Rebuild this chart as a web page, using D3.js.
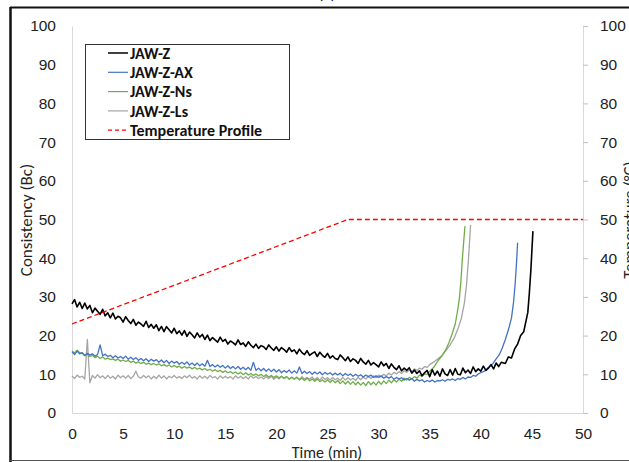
<!DOCTYPE html>
<html>
<head>
<meta charset="utf-8">
<script src="https://cdn.jsdelivr.net/npm/d3@7"></script>
<style>
  body { margin: 0; background: #fff; }
  svg { font-family: Carlito, Calibri, Lato, sans-serif; }
  .axis text { font-size: 15.5px; fill: #222; }
  .axis .domain { stroke: #d9d9d9; }
  .axis line { stroke: #bfbfbf; }
</style>
</head>
<body>
<svg width="629" height="462"></svg>
<script>
// sample interval (min) of the regular part of each record
const step = 0.25;

// JAW-Z, t = 0 .. 42 min
const jawZ = [
  28.2, 29.3, 27.4, 28.6, 27.0, 28.4, 26.9, 27.8, 25.9, 27.1, 26.3, 25.5,
  26.8, 25.1, 25.9, 24.6, 25.8, 24.3, 25.0, 24.6, 23.5, 24.9, 23.9, 23.1,
  24.2, 22.7, 23.5, 23.0, 22.4, 23.7, 22.1, 22.9, 21.9, 22.8, 21.3, 22.4,
  21.0, 22.3, 21.5, 20.7, 21.9, 20.5, 21.2, 20.1, 21.3, 19.8, 20.9, 20.2,
  19.4, 20.7, 19.6, 20.3, 19.0, 20.1, 18.7, 19.5, 18.9, 18.3, 19.6, 18.5,
  19.0, 17.8, 18.6, 18.2, 17.6, 18.9, 17.7, 18.1, 17.2, 18.4, 17.5, 16.9,
  17.8, 16.7, 17.4, 17.1, 16.4, 17.6, 16.8, 16.2, 17.1, 16.0, 16.9, 16.4,
  15.7, 16.9, 15.9, 16.3, 15.3, 16.5, 15.6, 15.1, 16.1, 14.9, 15.4, 15.8,
  14.6, 15.7, 14.9, 14.4, 15.4, 14.2, 14.8, 14.1, 13.8, 15.0, 14.3, 13.5,
  14.5, 13.3, 14.0, 13.6, 12.8, 14.1, 13.2, 12.6, 13.6, 12.4, 13.0, 12.5,
  11.9, 13.2, 12.2, 12.8, 11.5, 12.7, 11.8, 11.2, 12.2, 10.9, 11.6, 11.0,
  11.7, 10.3, 11.1, 10.2, 10.9, 9.6, 10.4, 11.0, 9.4, 11.2, 9.8, 10.8,
  9.5, 11.4, 10.1, 9.7, 11.2, 9.8, 11.5, 10.0, 9.9, 11.6, 10.4, 11.1,
  10.2, 11.9, 10.7, 11.4, 10.8, 12.1, 11.0, 11.6, 12.5, 11.4, 12.9, 12.0,
  13.1
];
const jawZRise = [
  [42.4, 12.8], [42.7, 14.5], [43.0, 14.2], [43.3, 16.5], [43.6, 17.8],
  [43.9, 20.0], [44.2, 21.0], [44.4, 23.5], [44.6, 26.0], [44.75, 31.0],
  [44.9, 37.0], [45.0, 42.0], [45.1, 47.0]
];

// JAW-Z-AX, t = 0 .. 40 min
const jawZAX = [
  15.8, 15.1, 16.0, 15.3, 15.6, 14.9, 15.4, 15.0, 15.3, 14.7, 15.1, 17.6,
  14.8, 15.2, 14.6, 14.9, 14.3, 14.8, 14.2, 14.6, 14.1, 14.7, 13.9, 14.4,
  13.8, 14.3, 13.6, 14.1, 13.5, 14.0, 13.3, 13.9, 13.4, 13.8, 13.1, 13.7,
  13.0, 13.6, 12.8, 13.4, 12.9, 13.3, 12.6, 13.1, 12.6, 13.2, 12.4, 12.9,
  12.3, 12.9, 12.2, 12.7, 12.1, 13.6, 12.0, 12.5, 11.9, 12.4, 11.8, 12.3,
  11.6, 12.2, 11.5, 12.0, 11.4, 12.0, 11.3, 11.8, 11.2, 11.8, 11.0, 13.1,
  11.0, 11.6, 10.9, 11.5, 10.8, 11.4, 10.7, 11.3, 10.6, 11.2, 10.4, 11.0,
  10.5, 11.1, 10.3, 10.9, 10.3, 11.9, 10.2, 10.8, 10.2, 10.7, 10.0, 10.6,
  10.1, 10.6, 9.9, 10.5, 10.0, 10.4, 9.8, 10.3, 9.8, 10.3, 9.6, 10.2,
  9.7, 10.1, 9.5, 10.0, 9.5, 9.9, 9.3, 9.8, 9.4, 9.8, 9.2, 9.6,
  9.2, 9.6, 9.0, 9.4, 9.0, 9.4, 8.7, 9.2, 8.8, 9.1, 8.5, 8.9,
  8.5, 8.9, 8.2, 8.7, 8.3, 8.6, 8.0, 8.4, 8.1, 8.5, 8.0, 8.4,
  8.3, 8.6, 8.2, 8.7, 8.5, 8.8, 8.4, 8.9, 8.7, 9.2, 8.8, 9.3,
  9.2, 9.7, 9.5, 10.1, 10.4
];
const jawZAXRise = [
  [40.4, 10.9], [40.8, 11.9], [41.2, 12.8], [41.5, 14.0], [41.8, 15.0],
  [42.1, 16.8], [42.4, 19.0], [42.7, 21.5], [43.0, 24.5], [43.2, 28.5],
  [43.35, 33.0], [43.5, 39.0], [43.6, 44.0]
];

// JAW-Z-Ns, t = 0 .. 35 min
const jawZNs = [
  16.0, 15.5, 16.2, 15.6, 15.4, 14.8, 15.2, 14.6, 14.9, 14.3, 14.7, 14.1,
  14.5, 13.9, 14.2, 13.8, 14.0, 13.6, 13.9, 13.4, 13.7, 13.3, 13.6, 13.1,
  13.4, 12.9, 13.2, 12.8, 13.1, 12.6, 12.9, 12.5, 12.8, 12.4, 12.7, 12.2,
  12.5, 12.1, 12.4, 11.9, 12.3, 11.8, 12.1, 11.6, 12.0, 11.6, 11.9, 11.4,
  11.8, 11.3, 11.6, 11.1, 11.5, 11.0, 11.3, 10.8, 11.2, 10.7, 11.0, 10.5,
  10.9, 10.4, 10.7, 10.2, 10.6, 10.1, 10.5, 9.9, 10.4, 9.8, 10.2, 9.7,
  10.1, 9.6, 10.0, 9.4, 9.9, 9.3, 9.7, 9.2, 9.6, 9.1, 9.5, 8.9,
  9.4, 8.8, 9.2, 8.7, 9.2, 8.6, 9.0, 8.4, 9.0, 8.3, 8.8, 8.2,
  8.8, 8.1, 8.6, 8.0, 8.6, 7.9, 8.5, 7.8, 8.4, 7.6, 8.3, 7.5,
  8.2, 7.4, 8.1, 7.3, 8.0, 7.2, 7.9, 7.1, 8.1, 7.3, 8.0, 7.2,
  8.2, 7.4, 8.3, 7.6, 8.5, 7.8, 8.6, 8.0, 8.8, 8.2, 9.0, 8.5,
  9.2, 8.8, 9.4, 9.0, 9.8, 9.5, 10.1, 10.0, 10.8
];
const jawZNsRise = [
  [35.4, 11.8], [35.8, 13.5], [36.2, 14.8], [36.6, 16.5], [36.9, 18.3],
  [37.2, 20.5], [37.5, 23.0], [37.7, 26.0], [37.9, 29.5], [38.05, 34.0],
  [38.2, 40.0], [38.35, 45.0], [38.45, 48.3]
];

// JAW-Z-Ls, t = 0 .. 35 min
const jawZLs = [
  9.6, 8.9, 9.8, 9.2, 9.5, 8.8, 19.0, 7.8, 9.7, 9.0, 9.9, 9.1,
  9.6, 8.9, 9.7, 9.0, 9.5, 8.8, 9.8, 9.1, 9.6, 9.0, 9.7, 8.9,
  9.5, 10.8, 9.3, 9.0, 9.7, 9.1, 9.6, 8.8, 9.5, 8.9, 9.8, 9.0,
  9.6, 8.8, 9.5, 9.1, 9.7, 9.0, 9.4, 8.9, 9.6, 9.1, 9.8, 9.0,
  9.4, 8.8, 9.6, 9.0, 9.5, 8.9, 9.7, 9.1, 9.4, 8.8, 9.6, 9.0,
  9.5, 9.0, 9.4, 8.8, 9.6, 9.0, 9.5, 8.9, 9.4, 8.8, 9.6, 9.0,
  9.5, 8.9, 9.3, 8.8, 9.4, 8.9, 9.5, 8.7, 9.3, 8.8, 9.5, 8.9,
  9.4, 8.7, 9.3, 8.8, 9.3, 8.6, 9.4, 8.8, 9.2, 8.7, 9.3, 8.6,
  9.2, 8.5, 9.3, 8.7, 9.1, 8.5, 9.2, 8.6, 9.0, 8.4, 9.2, 8.5,
  9.1, 8.5, 9.0, 8.4, 9.2, 8.6, 9.3, 8.8, 9.4, 8.9, 9.6, 9.1,
  9.8, 9.3, 10.0, 9.6, 10.3, 9.8, 10.5, 10.1, 10.7, 10.2, 10.9, 10.5,
  11.1, 10.7, 11.4, 11.0, 11.6, 11.3, 12.0, 11.8, 12.5
];
const jawZLsRise = [
  [35.4, 13.2], [35.8, 14.0], [36.2, 14.8], [36.6, 16.2], [37.0, 17.6],
  [37.4, 19.4], [37.8, 22.0], [38.1, 24.5], [38.4, 28.5], [38.6, 33.0],
  [38.8, 40.0], [39.0, 48.6]
];

// temperature profile (°C, right axis)
const tempTimes = [0, 27, 50];
const tempValues = [23, 50, 50];

const seriesNames = ['JAW-Z', 'JAW-Z-AX', 'JAW-Z-Ns', 'JAW-Z-Ls', 'Temperature Profile'];
const xTicks = [0, 5, 10, 15, 20, 25, 30, 35, 40, 45, 50];
const yTicks = [0, 10, 20, 30, 40, 50, 60, 70, 80, 90, 100];

const svg = d3.select('svg');

const x = d3.scaleLinear().domain([0, 50]).range([72, 583]);
const y = d3.scaleLinear().domain([0, 100]).range([413, 26]);
const yRight = d3.scaleLinear().domain([0, 100]).range([413, 26]);

// outer frame of the figure
svg.append('line').attr('x1', 10).attr('x2', 629).attr('y1', 7.5).attr('y2', 7.5)
  .attr('stroke', '#111').attr('stroke-width', 2);
svg.append('line').attr('x1', 10.5).attr('x2', 10.5).attr('y1', 7).attr('y2', 462)
  .attr('stroke', '#111').attr('stroke-width', 2.5);
svg.append('line').attr('x1', 10).attr('x2', 629).attr('y1', 460.5).attr('y2', 460.5)
  .attr('stroke', '#555').attr('stroke-width', 1);

svg.append('text')
  .attr('x', 327).attr('y', -1)
  .attr('text-anchor', 'middle')
  .attr('font-size', 16)
  .text('(a)');

svg.append('g')
  .attr('class', 'axis')
  .attr('transform', 'translate(72,0)')
  .call(d3.axisLeft(y).tickValues(yTicks).tickSize(0).tickPadding(16));

svg.append('g')
  .attr('class', 'axis')
  .attr('transform', 'translate(583,0)')
  .call(d3.axisRight(yRight).tickValues(yTicks).tickSize(5).tickSizeOuter(0).tickPadding(12));

svg.append('g')
  .attr('class', 'axis')
  .attr('transform', 'translate(0,413)')
  .call(d3.axisBottom(x).tickValues(xTicks).tickSize(0).tickPadding(15));

svg.append('text')
  .attr('transform', 'translate(32,220) rotate(-90)')
  .attr('text-anchor', 'middle')
  .attr('font-size', 17)
  .attr('fill', '#222')
  .text('Consistency (Bc)');

svg.append('text')
  .attr('transform', 'translate(635,220) rotate(-90)')
  .attr('text-anchor', 'middle')
  .attr('font-size', 17)
  .attr('fill', '#222')
  .text('Temperature (°C)');

svg.append('text')
  .attr('x', 327).attr('y', 458)
  .attr('text-anchor', 'middle')
  .attr('font-size', 16)
  .attr('fill', '#222')
  .text('Time (min)');

const toPoints = (vals, rise) => vals.map((v, i) => [i * step, v]).concat(rise);

const line = d3.line().x(d => x(d[0])).y(d => y(d[1]));

const series = [
  { pts: toPoints(jawZLs, jawZLsRise), color: '#a5a5a5', width: 1.3 },
  { pts: toPoints(jawZNs, jawZNsRise), color: '#70ad47', width: 1.3 },
  { pts: toPoints(jawZAX, jawZAXRise), color: '#4472c4', width: 1.3 },
  { pts: toPoints(jawZ, jawZRise), color: '#000000', width: 1.6 }
];

svg.append('g')
  .selectAll('path')
  .data(series)
  .join('path')
  .attr('fill', 'none')
  .attr('stroke', d => d.color)
  .attr('stroke-width', d => d.width)
  .attr('stroke-linejoin', 'round')
  .attr('d', d => line(d.pts));

const tempLine = d3.line().x(d => x(d[0])).y(d => yRight(d[1]));
svg.append('path')
  .datum(tempTimes.map((t, i) => [t, tempValues[i]]))
  .attr('fill', 'none')
  .attr('stroke', '#ff0000')
  .attr('stroke-width', 1.3)
  .attr('stroke-dasharray', '5,3')
  .attr('d', tempLine);

// legend
const legend = svg.append('g').attr('transform', 'translate(85,44)');
legend.append('rect')
  .attr('x', 0.5).attr('y', 0.5)
  .attr('width', 204).attr('height', 95)
  .attr('fill', '#fff')
  .attr('stroke', '#333');

const legendColors = ['#000000', '#4472c4', '#70ad47', '#a5a5a5', '#ff0000'];
const items = legend.selectAll('g.item')
  .data(seriesNames)
  .join('g')
  .attr('class', 'item')
  .attr('transform', (d, i) => `translate(0,${9 + i * 19.3})`);

items.append('line')
  .attr('x1', 23).attr('x2', 43)
  .attr('stroke', (d, i) => legendColors[i])
  .attr('stroke-width', (d, i) => i === 0 ? 1.5 : 1.2)
  .attr('stroke-dasharray', (d, i) => i === 4 ? '4,3' : null);

items.append('text')
  .attr('x', 45).attr('dy', '0.35em')
  .attr('font-size', 16)
  .attr('font-weight', 'bold')
  .attr('fill', '#111')
  .text(d => d);
</script>
</body>
</html>
